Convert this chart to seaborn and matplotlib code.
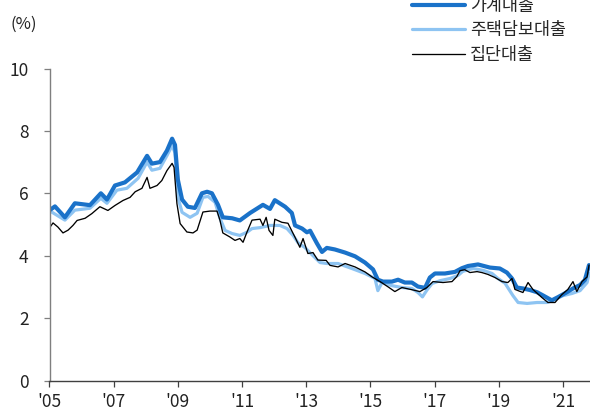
import matplotlib
matplotlib.use("Agg")
import matplotlib.pyplot as plt
import seaborn as sns
import pandas as pd

# 가계대출 (household loans)
hh_year = [2005.02, 2005.17, 2005.48, 2005.79, 2006.26, 2006.60, 2006.79, 2007.04, 2007.35, 2007.73,
           2008.04, 2008.19, 2008.44, 2008.66, 2008.82, 2008.91, 2009.00, 2009.13, 2009.31, 2009.53,
           2009.75, 2009.91, 2010.06, 2010.25, 2010.40, 2010.69, 2010.93, 2011.25, 2011.65, 2011.87,
           2012.02, 2012.34, 2012.55, 2012.65, 2012.87, 2013.02, 2013.12, 2013.33, 2013.49, 2013.64,
           2013.89, 2014.21, 2014.52, 2014.83, 2015.08, 2015.23, 2015.39, 2015.67, 2015.86, 2016.07,
           2016.29, 2016.48, 2016.70, 2016.85, 2017.01, 2017.32, 2017.63, 2017.85, 2018.04, 2018.35,
           2018.72, 2019.03, 2019.25, 2019.41, 2019.56, 2019.75, 2019.97, 2020.19, 2020.37, 2020.65,
           2020.84, 2021.12, 2021.31, 2021.53, 2021.68, 2021.81]
hh_rate = [5.47, 5.58, 5.23, 5.68, 5.62, 6.00, 5.80, 6.25, 6.35, 6.67,
           7.20, 6.95, 7.00, 7.37, 7.75, 7.55, 6.43, 5.80, 5.57, 5.53,
           6.00, 6.05, 6.00, 5.63, 5.23, 5.20, 5.13, 5.37, 5.63, 5.50,
           5.78, 5.57, 5.37, 4.97, 4.87, 4.75, 4.80, 4.40, 4.12, 4.25,
           4.20, 4.10, 3.98, 3.78, 3.56, 3.23, 3.17, 3.17, 3.23, 3.14,
           3.14, 3.01, 2.97, 3.30, 3.43, 3.43, 3.48, 3.60, 3.67, 3.72,
           3.62, 3.59, 3.46, 3.27, 2.98, 2.95, 2.90, 2.83, 2.73, 2.57,
           2.67, 2.83, 2.95, 3.06, 3.22, 3.70]

# 주택담보대출 (mortgage loans)
mtg_year = [2005.02, 2005.48, 2005.79, 2006.26, 2006.60, 2006.79, 2007.10, 2007.41, 2007.76, 2008.04,
            2008.19, 2008.44, 2008.66, 2008.82, 2008.91, 2009.00, 2009.13, 2009.38, 2009.60, 2009.78,
            2009.94, 2010.16, 2010.31, 2010.47, 2010.69, 2010.93, 2011.15, 2011.31, 2011.56, 2011.87,
            2012.18, 2012.40, 2012.59, 2012.74, 2012.96, 2013.21, 2013.43, 2013.64, 2013.99, 2014.42,
            2014.83, 2015.14, 2015.23, 2015.36, 2015.67, 2015.98, 2016.29, 2016.48, 2016.62, 2016.76,
            2016.92, 2017.17, 2017.48, 2017.73, 2017.88, 2018.20, 2018.51, 2018.79, 2018.97, 2019.19,
            2019.44, 2019.60, 2019.88, 2020.19, 2020.50, 2020.75, 2021.00, 2021.28, 2021.53, 2021.75,
            2021.81]
mtg_rate = [5.43, 5.14, 5.46, 5.52, 5.84, 5.68, 6.10, 6.16, 6.48, 7.00,
            6.74, 6.80, 7.21, 7.53, 7.30, 5.87, 5.39, 5.23, 5.36, 5.87,
            5.90, 5.71, 5.20, 4.81, 4.71, 4.65, 4.75, 4.87, 4.90, 4.97,
            4.97, 4.87, 4.65, 4.42, 4.26, 4.00, 3.78, 3.75, 3.75, 3.59,
            3.43, 3.27, 2.88, 3.14, 3.04, 2.98, 2.95, 2.82, 2.68, 2.90,
            3.11, 3.20, 3.27, 3.37, 3.50, 3.59, 3.53, 3.43, 3.27, 3.12,
            2.72, 2.50, 2.47, 2.50, 2.50, 2.60, 2.72, 2.79, 2.88, 3.14,
            3.43]

# 집단대출 (group loans)
grp_year = [2005.02, 2005.11, 2005.26, 2005.42, 2005.58, 2005.73, 2005.86, 2006.11, 2006.32, 2006.57,
            2006.82, 2007.04, 2007.29, 2007.51, 2007.67, 2007.88, 2008.04, 2008.13, 2008.35, 2008.50,
            2008.66, 2008.82, 2008.88, 2008.97, 2009.07, 2009.28, 2009.47, 2009.60, 2009.78, 2010.00,
            2010.22, 2010.31, 2010.40, 2010.62, 2010.78, 2010.93, 2011.03, 2011.15, 2011.31, 2011.56,
            2011.65, 2011.75, 2011.84, 2011.96, 2012.02, 2012.24, 2012.43, 2012.65, 2012.80, 2012.90,
            2013.05, 2013.21, 2013.36, 2013.62, 2013.74, 2013.99, 2014.21, 2014.52, 2014.83, 2015.05,
            2015.30, 2015.55, 2015.76, 2015.98, 2016.29, 2016.54, 2016.76, 2016.95, 2017.26, 2017.54,
            2017.69, 2017.79, 2017.94, 2018.10, 2018.32, 2018.47, 2018.66, 2018.88, 2019.10, 2019.28,
            2019.41, 2019.50, 2019.75, 2019.91, 2020.06, 2020.34, 2020.53, 2020.75, 2020.96, 2021.15,
            2021.31, 2021.43, 2021.59, 2021.75, 2021.81]
grp_rate = [4.92, 5.05, 4.92, 4.73, 4.82, 4.97, 5.13, 5.20, 5.35, 5.57,
            5.45, 5.61, 5.77, 5.87, 6.05, 6.16, 6.51, 6.16, 6.25, 6.41,
            6.73, 6.96, 6.83, 5.67, 5.03, 4.76, 4.73, 4.82, 5.40, 5.43,
            5.43, 5.14, 4.73, 4.60, 4.49, 4.55, 4.43, 4.75, 5.14, 5.17,
            4.97, 5.23, 4.81, 4.65, 5.17, 5.07, 5.04, 4.59, 4.27, 4.55,
            4.07, 4.10, 3.86, 3.85, 3.69, 3.64, 3.75, 3.64, 3.48, 3.32,
            3.17, 3.00, 2.85, 2.98, 2.91, 2.85, 2.98, 3.17, 3.14, 3.17,
            3.33, 3.52, 3.55, 3.46, 3.49, 3.46, 3.40, 3.30, 3.17, 3.14,
            3.27, 2.92, 2.82, 3.14, 2.92, 2.66, 2.50, 2.50, 2.75, 2.92,
            3.17, 2.85, 3.17, 3.32, 3.70]

tick_years = [2005, 2007, 2009, 2011, 2013, 2015, 2017, 2019, 2021]
tick_labels = ["'05", "'07", "'09", "'11", "'13", "'15", "'17", "'19", "'21"]
y_ticks = [0, 2, 4, 6, 8, 10]

series_names = ["가계대출", "주택담보대출", "집단대출"]

sns.set_style("ticks")
plt.rcParams["font.family"] = ["Noto Sans CJK KR", "DejaVu Sans"]
plt.rcParams["axes.unicode_minus"] = False

fig = plt.figure(figsize=(5.9, 4.11), dpi=100)
ax = fig.add_axes([49.5 / 590, 30.5 / 411, 1 - 49.5 / 590, 312 / 411])

# draw order: light blue under the thick blue, black on top
df_mtg = pd.DataFrame({"year": mtg_year, "rate": mtg_rate})
df_hh = pd.DataFrame({"year": hh_year, "rate": hh_rate})
df_grp = pd.DataFrame({"year": grp_year, "rate": grp_rate})

sns.lineplot(data=df_mtg, x="year", y="rate", ax=ax, color="#8ec4f2", linewidth=2.3,
             label=series_names[1], legend=False)
sns.lineplot(data=df_hh, x="year", y="rate", ax=ax, color="#1a72c9", linewidth=3.0,
             label=series_names[0], legend=False)
sns.lineplot(data=df_grp, x="year", y="rate", ax=ax, color="black", linewidth=0.95,
             label=series_names[2], legend=False)

ax.set_xlim(2005, 2021.84)
ax.set_ylim(0, 10)
ax.set_xticks(tick_years)
ax.set_xticklabels(tick_labels)
ax.set_yticks(y_ticks)
ax.set_xlabel("")
ax.set_ylabel("")

for side in ["top", "right"]:
    ax.spines[side].set_visible(False)
ax.spines["left"].set_color("#7f7f7f")
ax.spines["bottom"].set_color("#404040")
ax.spines["left"].set_linewidth(1.0)
ax.spines["bottom"].set_linewidth(1.0)
ax.tick_params(axis="y", length=4, width=0.9, color="#7f7f7f", pad=11,
               labelsize=12.5, labelcolor="#222222")
ax.tick_params(axis="x", length=4, width=0.9, color="#404040", pad=5,
               labelsize=12.5, labelcolor="#222222")

fig.text(10 / 590, 1 - 24 / 411, "(%)", fontsize=12, color="#222222", ha="left", va="center")

# legend sits at the top edge; first row is partly cut off like the original
lines = {l.get_label(): l for l in ax.get_lines()}
handles = [lines[n] for n in series_names]
fig.legend(handles, series_names, loc="upper left", bbox_to_anchor=(412 / 590, 1.008),
           frameon=False, fontsize=12.5, handlelength=3.05, handletextpad=0.3,
           labelspacing=0.38, borderpad=0, borderaxespad=0)

fig.savefig("out.png", dpi=100)
